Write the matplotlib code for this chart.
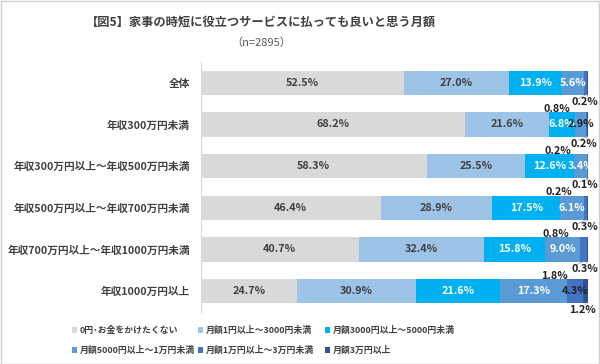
import matplotlib
matplotlib.use("Agg")
import matplotlib.pyplot as plt
from matplotlib.patches import Rectangle
import numpy as np

plt.rcParams['font.family'] = ['Noto Sans CJK JP', 'DejaVu Sans']

categories = ["全体", "年収300万円未満", "年収300万円以上～年収500万円未満",
              "年収500万円以上～年収700万円未満", "年収700万円以上～年収1000万円未満",
              "年収1000万円以上"]
series_names = ["0円･お金をかけたくない", "月額1円以上～3000円未満", "月額3000円以上～5000円未満",
                "月額5000円以上～1万円未満", "月額1万円以上～3万円未満", "月額3万円以上"]
s0 = [52.5, 68.2, 58.3, 46.4, 40.7, 24.7]
s1 = [27.0, 21.6, 25.5, 28.9, 32.4, 30.9]
s2 = [13.9, 6.8, 12.6, 17.5, 15.8, 21.6]
s3 = [5.6, 2.9, 3.4, 6.1, 9.0, 17.3]
s4 = [0.8, 0.2, 0.2, 0.8, 1.8, 4.3]
s5 = [0.2, 0.2, 0.1, 0.3, 0.3, 1.2]
series = [s0, s1, s2, s3, s4, s5]
colors = ["#d9d9d9", "#9dc3e6", "#00b0f0", "#5b9bd5", "#4472c4", "#2f5597"]

W, H = 600, 364
fig = plt.figure(figsize=(6, 3.64), dpi=100)
ax = fig.add_axes([201 / W, 1 - 312 / H, 387 / W, 250 / H])

y = np.arange(len(categories))
left = np.zeros(len(categories))
bars = []
FS = 7.8
for si, (name, vals, c) in enumerate(zip(series_names, series, colors)):
    b = ax.barh(y, vals, left=left, height=0.58, color=c, label=name, edgecolor='none')
    bars.append(b)
    for i, (v, l) in enumerate(zip(vals, left)):
        cx = l + v / 2
        if si <= 3 or (si == 4 and v >= 4):
            if si <= 1:
                col = '#404040'
            elif (si == 3 and i == 1) or si == 4:
                col = '#202020'
            else:
                col = 'white'
            ax.text(cx, i, f"{v:.1f}%", ha='center', va='center', fontsize=FS,
                    fontweight='bold', color=col)
        else:
            if si == 4:
                off = (-29, -14)
            else:
                off = (-3, -7)
            ax.annotate(f"{v:.1f}%", xy=(cx, i + 0.29), xycoords='data',
                        xytext=off, textcoords='offset pixels',
                        ha='center', va='center', fontsize=FS, fontweight='bold',
                        color='#202020',
                        arrowprops=dict(arrowstyle='-', color='#a0a0a0', lw=0.6,
                                        shrinkA=4, shrinkB=0))
    left = left + np.array(vals)

ax.set_xlim(0, 100)
ax.set_ylim(len(categories) - 0.5, -0.5)
ax.set_yticks(y)
ax.set_yticklabels(categories, fontsize=7.7, fontweight='bold', color='#404040')
ax.tick_params(axis='y', length=0, pad=8)
ax.set_xticks([])
for s in ['top', 'right', 'bottom']:
    ax.spines[s].set_visible(False)
ax.spines['left'].set_color('#d9d9d9')
ax.spines['left'].set_linewidth(0.8)

fig.text(261 / W, 1 - 22 / H, "【図5】家事の時短に役立つサービスに払っても良いと思う月額",
         ha='center', va='center', fontsize=8.8, fontweight='bold', color='#404040')
fig.text(261 / W, 1 - 43 / H, "（n=2895）", ha='center', va='center', fontsize=8,
         color='#595959')

handles = [b.patches[0] for b in bars]
col_x = [72, 198, 325]
for k, cx0 in enumerate(col_x):
    idx = [k, k + 3]
    leg = fig.legend([handles[j] for j in idx], [series_names[j] for j in idx],
                     ncol=1, loc='upper left', bbox_to_anchor=(cx0 / W, 1 - 326 / H),
                     frameon=False, handlelength=0.6, handleheight=0.6,
                     handletextpad=0.3, labelspacing=1.2, borderaxespad=0, borderpad=0,
                     prop={'size': 6.4, 'weight': 'bold'})
    for t in leg.get_texts():
        t.set_color('#404040')

fig.add_artist(Rectangle((0.5 / W, 0.5 / H), 1 - 1.5 / W, 1 - 1.5 / H, transform=fig.transFigure,
                         fill=False, edgecolor='#d0d0d0', lw=1))

fig.savefig("out.png", dpi=100)
